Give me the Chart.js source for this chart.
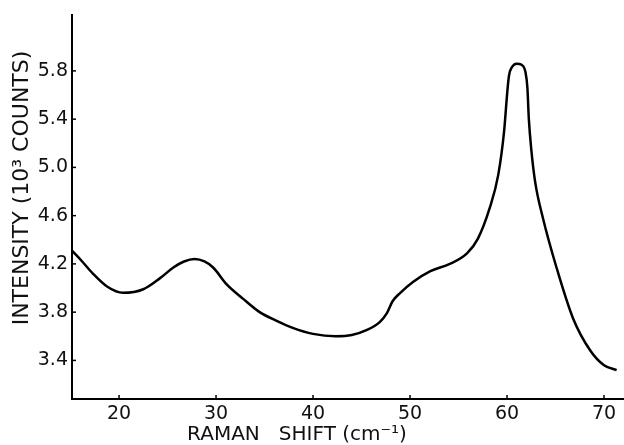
<!DOCTYPE html>
<html>
<head>
<meta charset="utf-8">
<script src="https://cdn.jsdelivr.net/npm/chart.js@4/dist/chart.umd.min.js"></script>
<style>
  html, body { margin:0; padding:0; background:#fff; }
  #wrap { width:624px; height:445px; position:relative; }
</style>
</head>
<body>
<div id="wrap"><canvas id="c"></canvas></div>
<script>
// Raman shift (cm-1) and intensity (10^3 counts)
const shiftCm = [15.15, 16.2, 17.3, 18.8, 20.4, 22.5, 24.2, 25.6, 26.7, 27.8, 28.8, 29.7, 31.1, 32.8, 34.5, 36.2, 37.9, 40.0, 42.3, 44.0,
  45.5, 46.9, 47.6, 48.2, 49.0, 50.3, 52.1, 54.1, 55.9, 57.0, 58.2, 59.1, 59.7, 60.0, 60.2, 60.5, 61.0, 61.5, 61.9, 62.1,
  62.25, 62.5, 62.9, 63.7, 65.1, 66.8, 68.6, 70.0, 71.3];
const intensity = [4.31, 4.22, 4.12, 4.01, 3.96, 3.99, 4.08, 4.17, 4.22, 4.24, 4.22, 4.17, 4.03, 3.91, 3.80, 3.73, 3.67, 3.62, 3.60, 3.61,
  3.65, 3.72, 3.79, 3.89, 3.96, 4.05, 4.14, 4.20, 4.29, 4.41, 4.66, 4.94, 5.30, 5.60, 5.76, 5.83, 5.86, 5.85, 5.79, 5.66,
  5.40, 5.15, 4.88, 4.58, 4.17, 3.75, 3.48, 3.36, 3.32];
const xTicks = [20, 30, 40, 50, 60, 70];
const yTicks = [3.4, 3.8, 4.2, 4.6, 5.0, 5.4, 5.8];

const FONT = '"DejaVu Sans", sans-serif';

const decor = {
  id: 'decor',
  afterDraw(chart){
    const { ctx, chartArea: a, scales: { x, y } } = chart;
    ctx.save();
    ctx.strokeStyle = '#000'; ctx.lineWidth = 1.5;
    xTicks.forEach(v => { const px = x.getPixelForValue(v); ctx.beginPath(); ctx.moveTo(px, a.bottom); ctx.lineTo(px, a.bottom - 4); ctx.stroke(); });
    yTicks.forEach(v => { const py = y.getPixelForValue(v); ctx.beginPath(); ctx.moveTo(a.left, py); ctx.lineTo(a.left + 4, py); ctx.stroke(); });
    ctx.fillStyle = '#111';
    ctx.textAlign = 'center'; ctx.textBaseline = 'middle';
    ctx.font = '20px ' + FONT;
    ctx.fillText('RAMAN   SHIFT (cm\u207B\u00B9)', 297, 435);
    ctx.translate(22, 188); ctx.rotate(-Math.PI / 2);
    ctx.font = '22px ' + FONT;
    ctx.fillText('INTENSITY (10\u00B3 COUNTS)', 0, 0);
    ctx.restore();
  }
};

new Chart(document.getElementById('c'), {
  type: 'line',
  data: {
    datasets: [{
      data: shiftCm.map((s, i) => ({ x: s, y: intensity[i] })),
      borderColor: '#000', borderWidth: 2.5, pointRadius: 0,
      cubicInterpolationMode: 'monotone', fill: false
    }]
  },
  options: {
    responsive: true, maintainAspectRatio: false, animation: false,
    layout: { padding: { top: 13, right: 0, left: 0, bottom: 0 } },
    plugins: { legend: { display: false }, tooltip: { enabled: false } },
    scales: {
      x: {
        type: 'linear', min: 15.15, max: 72.06,
        afterBuildTicks: s => { s.ticks = xTicks.map(v => ({ value: v })); },
        afterFit: s => { s.height = 46; },
        grid: { display: false, drawTicks: false },
        border: { display: true, color: '#000', width: 2 },
        ticks: { color: '#111', font: { family: FONT, size: 19 }, padding: 4, maxRotation: 0 }
      },
      y: {
        type: 'linear', min: 3.08, max: 6.26,
        afterBuildTicks: s => { s.ticks = yTicks.map(v => ({ value: v })); },
        afterFit: s => { s.width = 72; },
        grid: { display: false, drawTicks: false },
        border: { display: true, color: '#000', width: 2 },
        ticks: { color: '#111', font: { family: FONT, size: 19 }, padding: 4, callback: v => v.toFixed(1) }
      }
    }
  },
  plugins: [decor]
});
</script>
</body>
</html>
